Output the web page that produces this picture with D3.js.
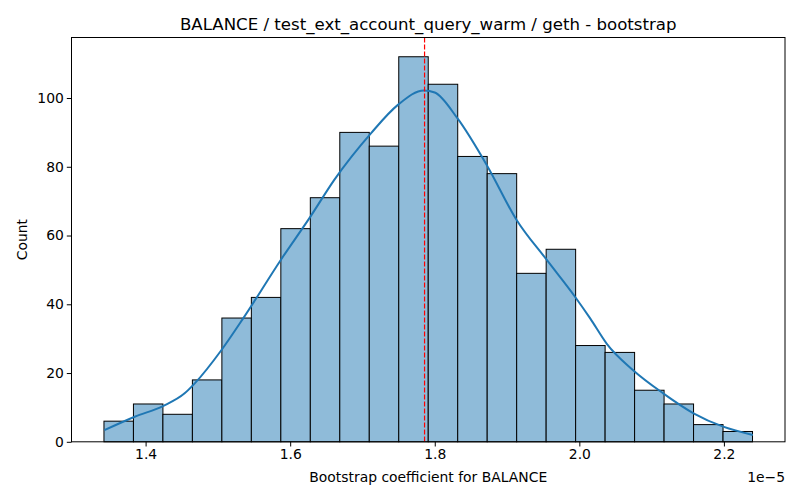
<!DOCTYPE html>
<html><head><meta charset="utf-8">
<script src="https://cdn.jsdelivr.net/npm/d3@7"></script>
<style>body{margin:0;background:#fff}svg{display:block}text{font-family:"DejaVu Sans",sans-serif;fill:#000}</style>
</head><body><svg id="c" width="800" height="500"></svg>
<script>
const binStart = 1.3424, binWidth = 0.04078;
const counts = [6,11,8,18,36,42,62,71,90,86,112,104,83,78,49,56,28,26,15,11,5,3];
const kdeX = [1.343,1.385,1.424,1.454,1.468,1.505,1.535,1.587,1.628,1.661,1.712,1.749,1.785,1.80,1.831,1.873,1.913,1.955,1.994,2.015,2.038,2.074,2.116,2.158,2.199,2.24];
const kdeY = [3.4,7.3,10.4,14.1,17.0,26.7,35.9,52.9,65.5,76.2,89.8,98,102.2,101.6,94.2,80.1,64.6,52.9,42.2,35.9,28.5,20.9,14.1,8.3,4.4,2.0];
const meanLine = 1.7859;
const xTicks = [1.4,1.6,1.8,2.0,2.2];
const yTicks = [0,20,40,60,80,100];

const svg = d3.select("#c");
const L=71.5, R=785, T=37.5, B=441.8;
const x = d3.scaleLinear().domain([1.2975,2.2845]).range([L,R]);
const y = d3.scaleLinear().domain([0,117.6]).range([B,T]);

const bins = counts.map((c,i)=>({x0:binStart+i*binWidth, x1:binStart+(i+1)*binWidth, c}));
svg.append("g").selectAll("rect").data(bins).join("rect")
  .attr("x",d=>x(d.x0)).attr("width",d=>x(d.x1)-x(d.x0))
  .attr("y",d=>y(d.c)).attr("height",d=>y(0)-y(d.c))
  .attr("fill","#8fbbd9").attr("stroke","#000").attr("stroke-width",1);

svg.append("path").datum(kdeX.map((v,i)=>[v,kdeY[i]]))
  .attr("d",d3.line().x(d=>x(d[0])).y(d=>y(d[1])).curve(d3.curveMonotoneX))
  .attr("fill","none").attr("stroke","#1f77b4").attr("stroke-width",2);

svg.append("line").attr("x1",x(meanLine)).attr("x2",x(meanLine)).attr("y1",T).attr("y2",B)
  .attr("stroke","red").attr("stroke-width",1.2).attr("stroke-dasharray","5,2");

const xa = svg.append("g").attr("transform",`translate(0,${B})`)
  .call(d3.axisBottom(x).tickValues(xTicks).tickFormat(d3.format(".1f")).tickSize(4.7).tickPadding(3));
const ya = svg.append("g").attr("transform",`translate(${L},0)`)
  .call(d3.axisLeft(y).tickValues(yTicks).tickSize(4.7).tickPadding(3));
[xa,ya].forEach(a=>{a.select(".domain").remove();a.selectAll("text").attr("font-size","13.9px").attr("font-family","DejaVu Sans");a.selectAll("line").attr("stroke","#000").attr("stroke-width",1);});

svg.append("rect").attr("x",L).attr("y",T).attr("width",R-L).attr("height",B-T)
  .attr("fill","none").attr("stroke","#000").attr("stroke-width",1);

svg.append("text").attr("x",(L+R)/2).attr("y",29.5).attr("text-anchor","middle").attr("font-size","16.6px")
  .text("BALANCE / test_ext_account_query_warm / geth - bootstrap");
svg.append("text").attr("x",(L+R)/2).attr("y",482).attr("text-anchor","middle").attr("font-size","13.9px")
  .text("Bootstrap coefficient for BALANCE");
svg.append("text").attr("x",R).attr("y",482).attr("text-anchor","end").attr("font-size","13.9px")
  .text("1e\u22125");
svg.append("text").attr("transform",`translate(27,${(T+B)/2}) rotate(-90)`).attr("text-anchor","middle").attr("font-size","13.9px")
  .text("Count");
</script></body></html>
